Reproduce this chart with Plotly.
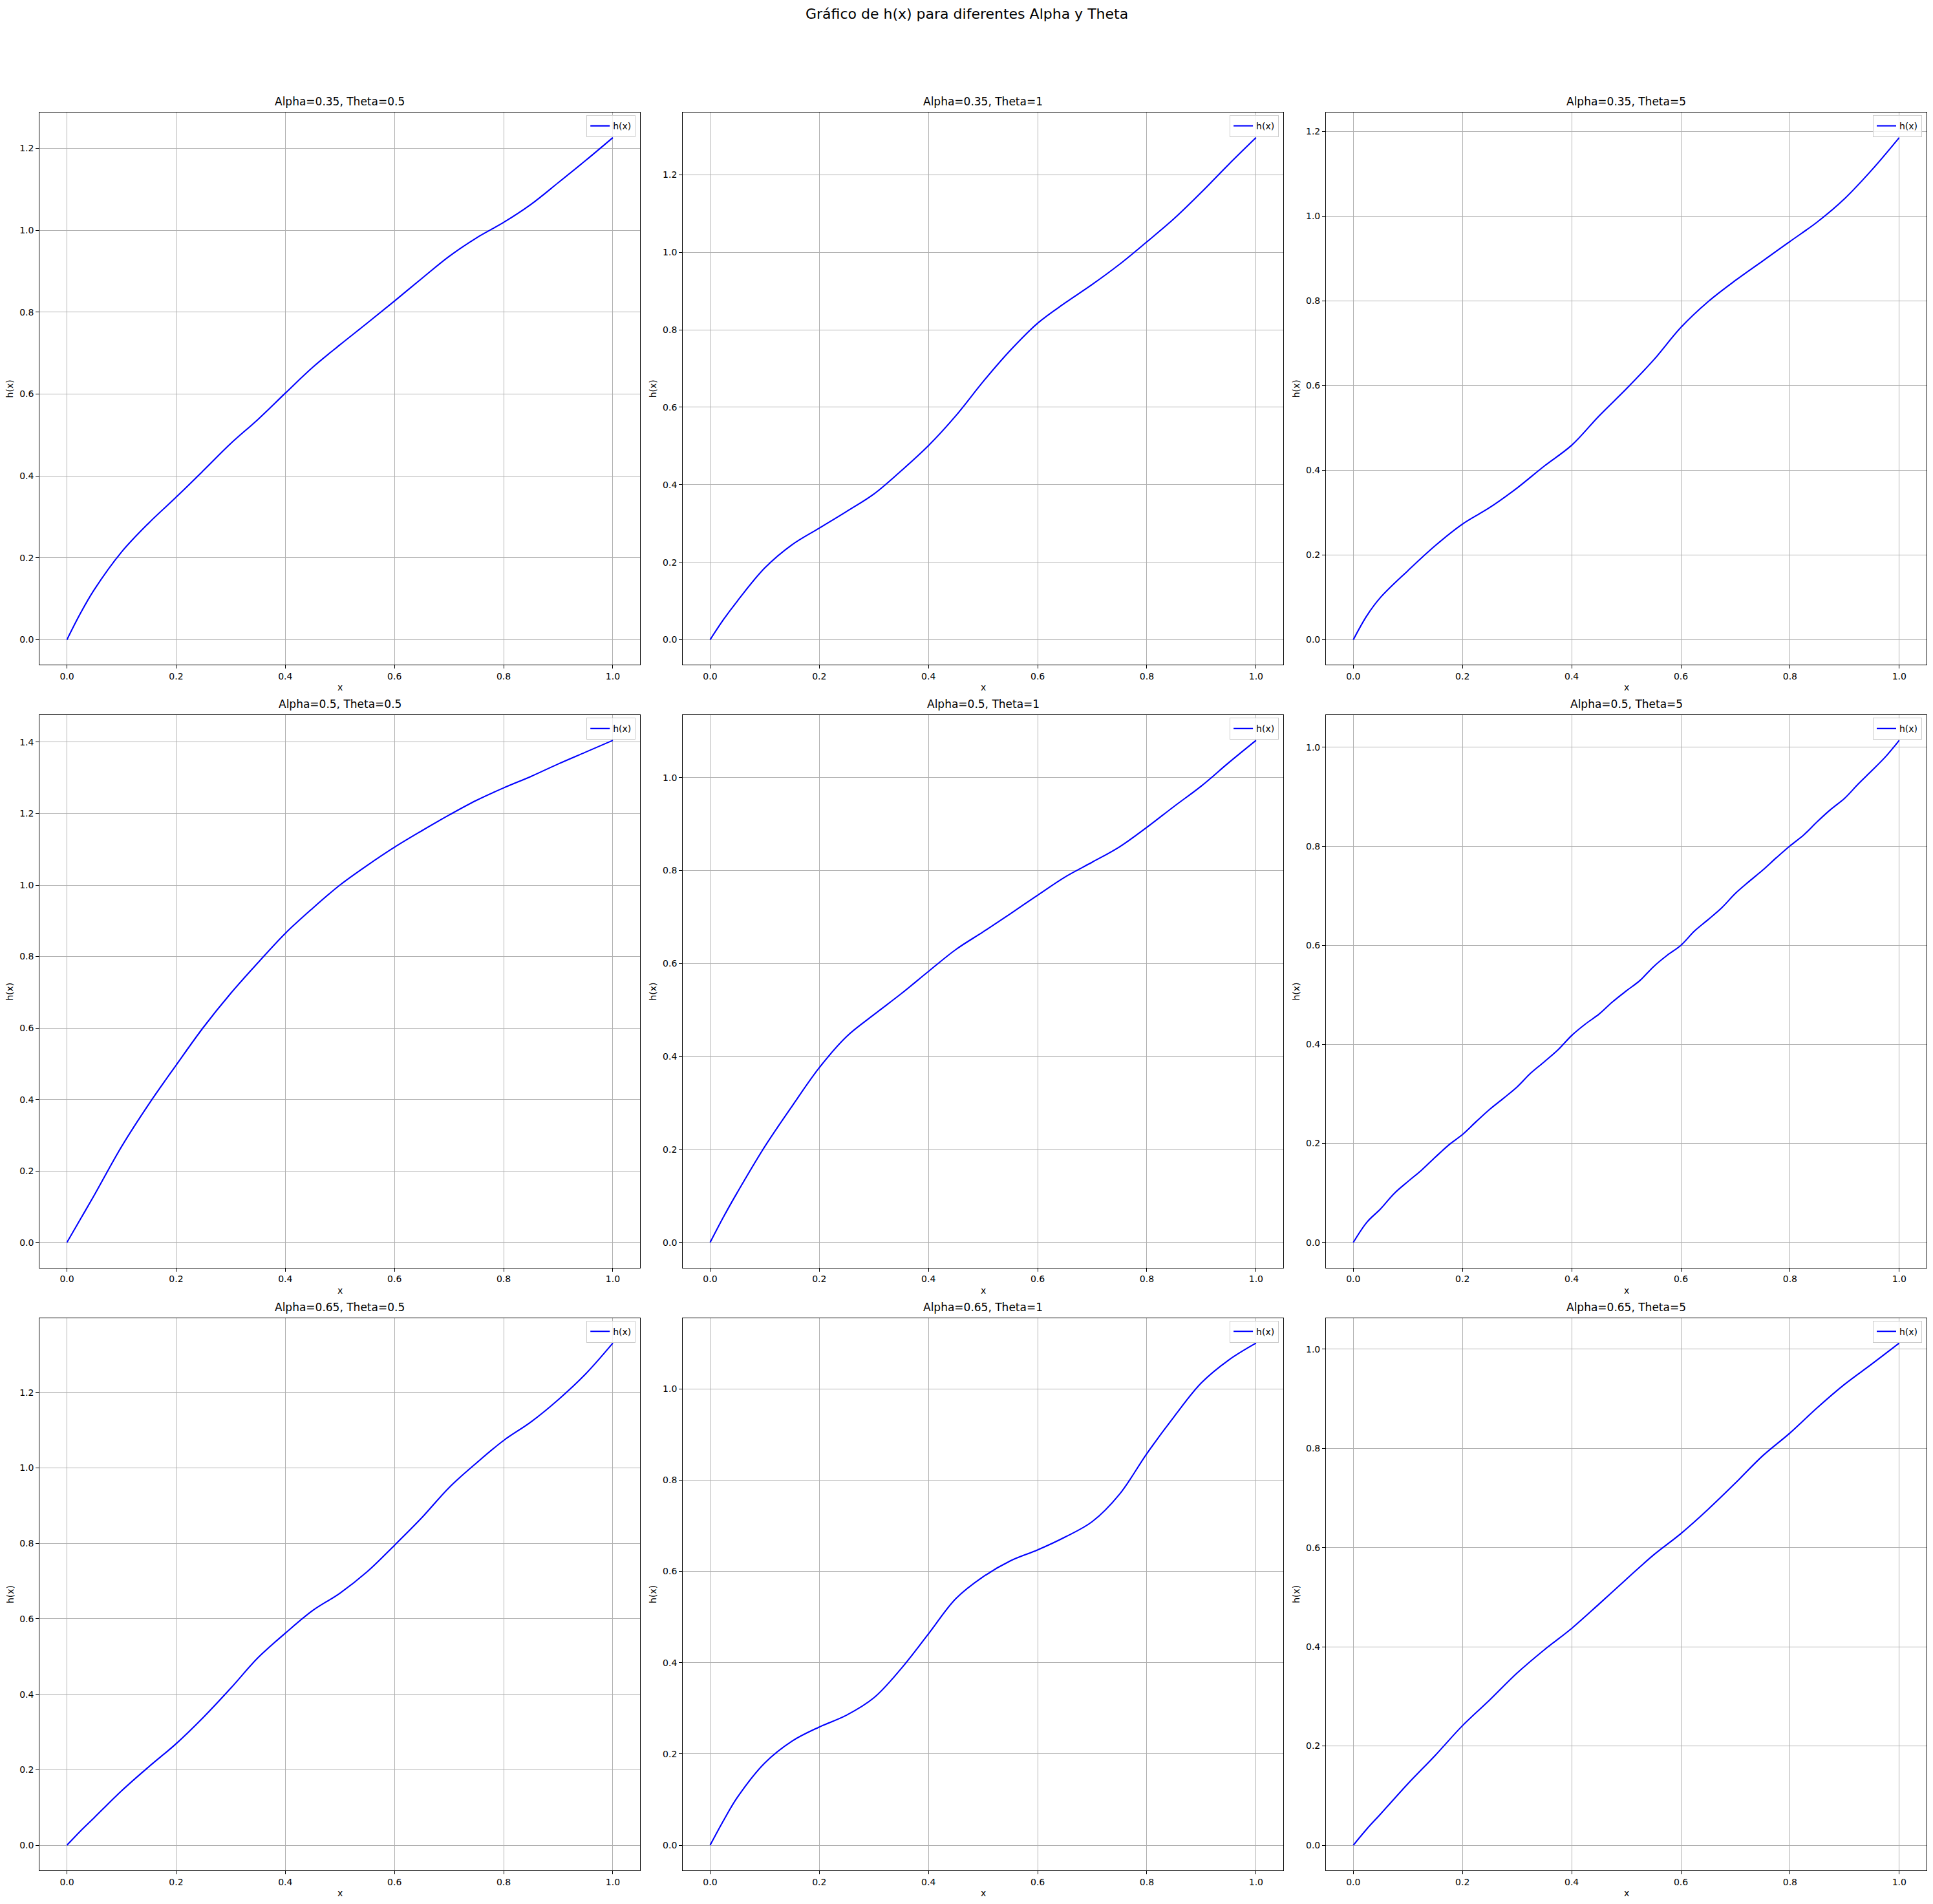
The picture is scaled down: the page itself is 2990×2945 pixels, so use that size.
import plotly.graph_objects as go

# ---------------- data ----------------
x_vals = [0.0, 0.025, 0.05, 0.1, 0.15, 0.2, 0.25, 0.3, 0.35, 0.4, 0.45, 0.5,
          0.55, 0.6, 0.65, 0.7, 0.75, 0.8, 0.85, 0.9, 0.95, 1.0]

x_fine = [0.0, 0.025, 0.05, 0.075, 0.1, 0.125, 0.15, 0.175, 0.2, 0.225, 0.25,
          0.275, 0.3, 0.325, 0.35, 0.375, 0.4, 0.425, 0.45, 0.475, 0.5,
          0.525, 0.55, 0.575, 0.6, 0.625, 0.65, 0.675, 0.7, 0.725, 0.75,
          0.775, 0.8, 0.825, 0.85, 0.875, 0.9, 0.925, 0.95, 0.975, 1.0]

h_a035_t05 = [0.0, 0.065, 0.122, 0.214, 0.285, 0.348, 0.413, 0.479, 0.538, 0.602, 0.665, 0.72,
              0.773, 0.827, 0.882, 0.936, 0.981, 1.019, 1.063, 1.116, 1.17, 1.226]
h_a035_t1 = [0.0, 0.053, 0.1, 0.185, 0.245, 0.288, 0.331, 0.376, 0.436, 0.501, 0.578, 0.666,
             0.747, 0.817, 0.869, 0.917, 0.969, 1.027, 1.087, 1.155, 1.227, 1.296]
h_a035_t5 = [0.0, 0.057, 0.1, 0.163, 0.222, 0.273, 0.312, 0.358, 0.41, 0.459, 0.528, 0.592,
             0.66, 0.737, 0.798, 0.848, 0.894, 0.94, 0.986, 1.041, 1.109, 1.185]

h_a05_t05 = [0.0, 0.066, 0.132, 0.268, 0.387, 0.496, 0.602, 0.697, 0.783, 0.865, 0.935, 1.0,
             1.055, 1.106, 1.152, 1.196, 1.237, 1.272, 1.304, 1.339, 1.372, 1.405]
h_a05_t1 = [0.0, 0.056, 0.108, 0.206, 0.293, 0.376, 0.443, 0.49, 0.535, 0.583, 0.63, 0.668,
            0.707, 0.747, 0.786, 0.818, 0.851, 0.893, 0.938, 0.982, 1.032, 1.08]
h_a05_t5 = [0.0, 0.041, 0.068, 0.099, 0.123, 0.146, 0.172, 0.197, 0.218, 0.244, 0.269,
            0.291, 0.314, 0.342, 0.365, 0.389, 0.418, 0.441, 0.461, 0.486, 0.508,
            0.529, 0.557, 0.58, 0.6, 0.629, 0.652, 0.676, 0.705, 0.729, 0.752,
            0.777, 0.801, 0.823, 0.85, 0.875, 0.897, 0.926, 0.953, 0.981, 1.014]

h_a065_t05 = [0.0, 0.038, 0.073, 0.144, 0.208, 0.269, 0.339, 0.416, 0.497, 0.562, 0.622, 0.668,
              0.725, 0.795, 0.868, 0.948, 1.013, 1.073, 1.122, 1.181, 1.249, 1.331]
h_a065_t1 = [0.0, 0.055, 0.105, 0.18, 0.228, 0.259, 0.285, 0.323, 0.387, 0.463, 0.54, 0.588,
             0.623, 0.647, 0.675, 0.709, 0.769, 0.858, 0.939, 1.013, 1.063, 1.1]
h_a065_t5 = [0.0, 0.033, 0.063, 0.124, 0.181, 0.241, 0.293, 0.347, 0.394, 0.437, 0.486, 0.536,
             0.585, 0.628, 0.677, 0.73, 0.785, 0.831, 0.882, 0.929, 0.97, 1.012]

alphas = [0.35, 0.5, 0.65]
thetas = ["0.5", "1", "5"]

panels = [
    (x_vals, h_a035_t05), (x_vals, h_a035_t1), (x_vals, h_a035_t5),
    (x_vals, h_a05_t05), (x_vals, h_a05_t1), (x_fine, h_a05_t5),
    (x_vals, h_a065_t05), (x_vals, h_a065_t1), (x_vals, h_a065_t5),
]

suptitle = "Gráfico de h(x) para diferentes Alpha y Theta"
x_label = "x"
y_label = "h(x)"

# ---------------- layout geometry (pixels) ----------------
W, H = 2990, 2945
col_left = [61.3, 1056.2, 2051.1]
panel_w = 928.9
row_top = [174.0, 1106.3, 2038.6]
panel_h = 854.3

FONT = "DejaVu Sans"
fig = go.Figure()
annotations = []
layout_extra = {}

for i, (xs, ys) in enumerate(panels):
    r, c = divmod(i, 3)
    n = i + 1
    xa = "x" if n == 1 else f"x{n}"
    ya = "y" if n == 1 else f"y{n}"
    lg = "legend" if n == 1 else f"legend{n}"
    fig.add_trace(go.Scatter(
        x=xs, y=ys, mode="lines", name="h(x)",
        line=dict(color="blue", width=2.1, shape="spline", smoothing=1.0),
        xaxis=xa, yaxis=ya, legend=lg, showlegend=True,
    ))
    x0 = col_left[c] / W
    x1 = (col_left[c] + panel_w) / W
    y1 = 1 - row_top[r] / H
    y0 = 1 - (row_top[r] + panel_h) / H
    ymax = max(ys)
    yrange = [-0.05 * ymax, 1.05 * ymax]
    axis_common = dict(
        showgrid=True, gridcolor="#b0b0b0", gridwidth=1.1,
        showline=True, linecolor="black", linewidth=1.1, mirror=True,
        ticks="outside", ticklen=5, tickwidth=1.1, tickcolor="black",
        zeroline=False, tickformat=".1f",
        tickfont=dict(family=FONT, size=14, color="black"),
    )
    layout_extra["xaxis" if n == 1 else f"xaxis{n}"] = dict(
        axis_common, domain=[x0, x1], range=[-0.05, 1.05],
        tick0=0, dtick=0.2, anchor=ya,
    )
    layout_extra["yaxis" if n == 1 else f"yaxis{n}"] = dict(
        axis_common, domain=[y0, y1], range=yrange,
        tick0=0, dtick=0.2, anchor=xa,
    )
    layout_extra[lg] = dict(
        x=(col_left[c] + panel_w - 7) / W, xanchor="right",
        y=1 - (row_top[r] + 4) / H, yanchor="top",
        bgcolor="rgba(255,255,255,0.8)", bordercolor="#cccccc", borderwidth=1,
        font=dict(family=FONT, size=14, color="black"),
        itemwidth=30, tracegroupgap=0,
    )
    # subplot title
    annotations.append(dict(
        text=f"Alpha={alphas[r]}, Theta={thetas[c]}",
        x=(x0 + x1) / 2, y=y1, xref="paper", yref="paper",
        xanchor="center", yanchor="bottom", yshift=5, showarrow=False,
        font=dict(family=FONT, size=17, color="black"),
    ))
    # x axis label
    annotations.append(dict(
        text=x_label, x=(x0 + x1) / 2, y=y0, xref="paper", yref="paper",
        xanchor="center", yanchor="top", yshift=-25, showarrow=False,
        font=dict(family=FONT, size=14, color="black"),
    ))
    # y axis label
    annotations.append(dict(
        text=y_label, x=x0, y=(y0 + y1) / 2, xref="paper", yref="paper",
        xanchor="center", yanchor="middle", xshift=-46, textangle=-90,
        showarrow=False, font=dict(family=FONT, size=14, color="black"),
    ))

annotations.append(dict(
    text=suptitle, x=0.5, y=1 - 21 / H, xref="paper", yref="paper",
    xanchor="center", yanchor="middle", showarrow=False,
    font=dict(family=FONT, size=22, color="black"),
))

fig.update_layout(
    width=W, height=H,
    margin=dict(l=0, r=0, t=0, b=0),
    paper_bgcolor="white", plot_bgcolor="white",
    font=dict(family=FONT, size=14, color="black"),
    annotations=annotations,
    **layout_extra,
)

fig.write_html("out.html")
